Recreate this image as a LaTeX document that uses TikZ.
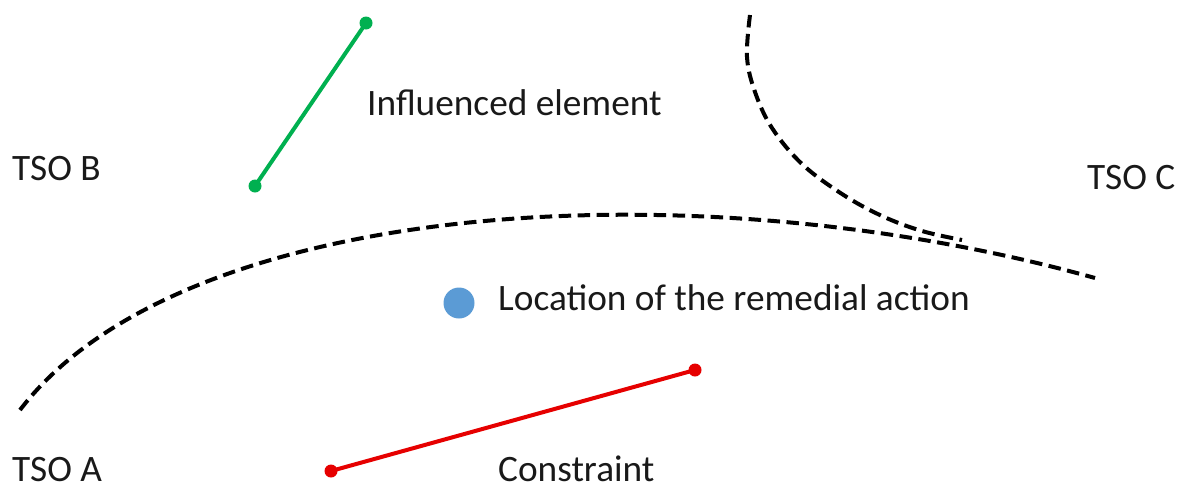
\documentclass[tikz,border=0pt]{standalone}
\usepackage{fontspec}
\setmainfont{Carlito}
\definecolor{elemgreen}{RGB}{0,176,80}
\definecolor{raBlue}{RGB}{91,155,213}
\definecolor{consred}{RGB}{230,0,0}
\begin{document}
\begin{tikzpicture}[x=1pt,y=-1pt,
  lbl/.style={anchor=base west,inner sep=0pt,font=\fontsize{37.3}{42}\selectfont,text=black!90},
  border/.style={draw=black,line width=4pt,dash pattern=on 12.5pt off 6.5pt},
  enddot/.style={circle,inner sep=0pt,minimum size=#1},
  link/.style={line width=4pt}]
\useasboundingbox (0,0) rectangle (1178,488);

% borders between the TSO areas
\draw[border] (20,410) .. controls (180,200) and (690,165) .. (1095,278);
\draw[border] plot[smooth,tension=0.6] coordinates {(750,15) (747,57) (755,92) (772,128) (802,164) (842,194) (882,216) (922,231) (962,240)};

% influenced element
\node[enddot=13pt,fill=elemgreen] (g1) at (255,186) {};
\node[enddot=13pt,fill=elemgreen] (g2) at (366,23) {};
\draw[link,elemgreen] (g1.center) -- (g2.center);

% constraint
\node[enddot=13pt,fill=consred] (r1) at (331,471) {};
\node[enddot=13pt,fill=consred] (r2) at (695,370) {};
\draw[link,consred] (r1.center) -- (r2.center);

% remedial action location
\node[circle,fill=raBlue,inner sep=0pt,minimum size=31pt] (ra) at (459,303) {};

% labels
\node[lbl] (tsob) at (12,180) {TSO B};
\node[lbl] (tsoc) at (1087,189) {TSO C};
\node[lbl] (tsoa) at (12,481) {TSO A};
\node[lbl] (infl) at (367,115) {Influenced element};
\node[lbl] (loc) at (498,310) {Location of the remedial action};
\node[lbl] (cons) at (498,481) {Constraint};
\end{tikzpicture}
\end{document}
